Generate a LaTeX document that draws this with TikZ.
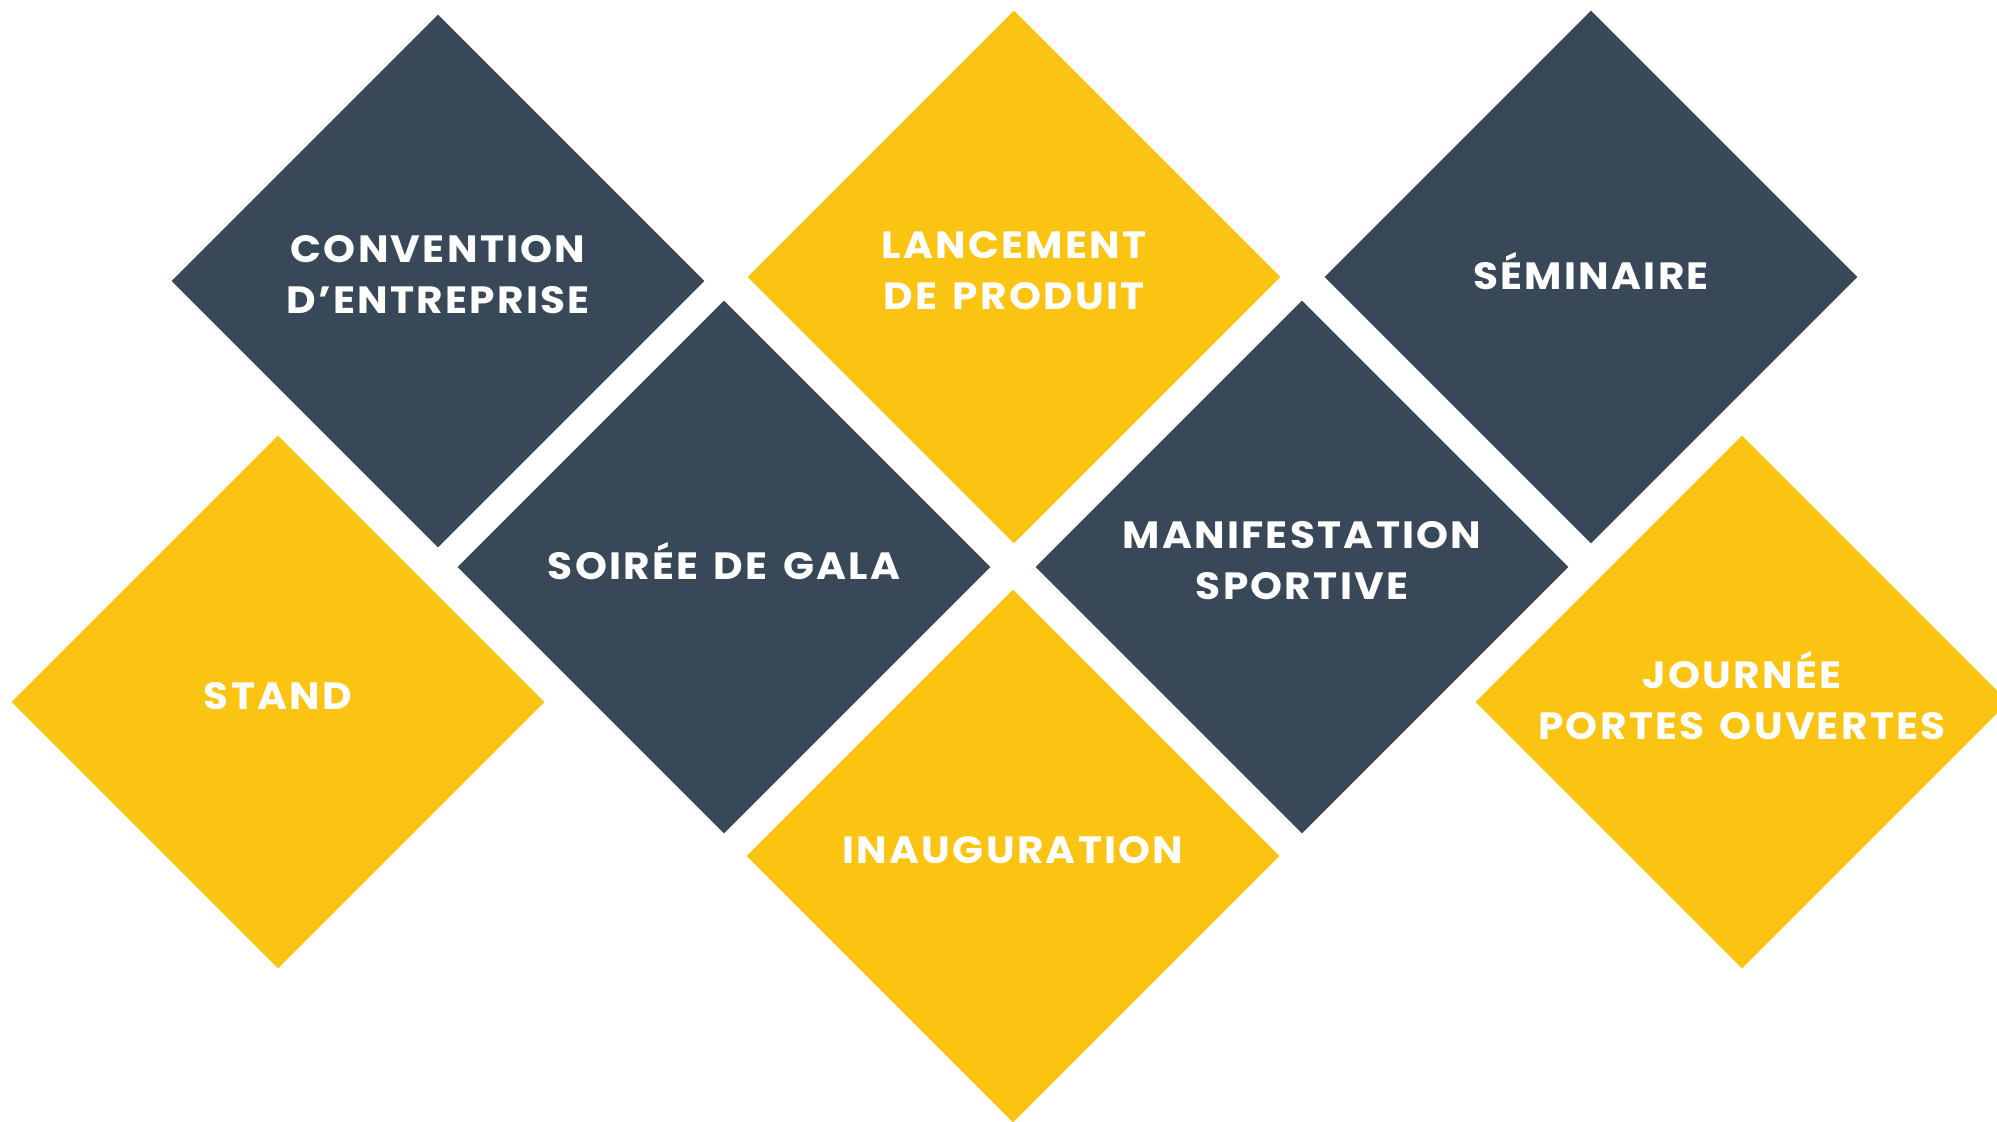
\documentclass[tikz,border=0pt]{standalone}
\usepackage{fontspec}
\setmainfont{Poppins}[FakeStretch=1.07, LetterSpace=6, WordSpace=1.4]
\usetikzlibrary{shapes.geometric}
\definecolor{slate}{HTML}{394859}
\definecolor{gold}{HTML}{FBC312}
\tikzset{
  tile/.style={diamond, minimum width=266.5pt, minimum height=266.5pt,
    inner sep=0pt},
  darktile/.style={tile, fill=slate},
  goldtile/.style={tile, fill=gold},
  caption/.style={text=white, align=center, yshift=3pt,
    font=\bfseries\fontsize{19}{25.5}\selectfont}
}

\begin{document}
\begin{tikzpicture}[x=0.5pt, y=-0.5pt]
  \useasboundingbox (0,0) rectangle (1997,1122);
  \clip (0,0) rectangle (1997,1122);

  % top row
  \node[darktile] (convention) at (438,281) {};
  \node[goldtile] (lancement)  at (1014,277) {};
  \node[darktile] (seminaire)  at (1591,277) {};

  % middle row
  \node[darktile] (gala)  at (724,567) {};
  \node[darktile] (sport) at (1302,567) {};

  % sides
  \node[goldtile] (stand)   at (278,702) {};
  \node[goldtile] (journee) at (1742,702) {};

  % bottom
  \node[goldtile] (inauguration) at (1013,856) {};

  % texts
  \node[caption] (convention-t) at (convention) {CONVENTION\\D’ENTREPRISE};
  \node[caption] (lancement-t) at (lancement) {LANCEMENT\\DE PRODUIT};
  \node[caption] (seminaire-t) at (seminaire) {SÉMINAIRE};
  \node[caption] (gala-t) at (gala) {SOIRÉE DE GALA};
  \node[caption] (sport-t) at (sport) {MANIFESTATION\\SPORTIVE};
  \node[caption] (stand-t) at (stand) {STAND};
  \node[caption] (journee-t) at (journee) {JOURNÉE\\PORTES OUVERTES};
  \node[caption] (inauguration-t) at (inauguration) {INAUGURATION};
\end{tikzpicture}
\end{document}
